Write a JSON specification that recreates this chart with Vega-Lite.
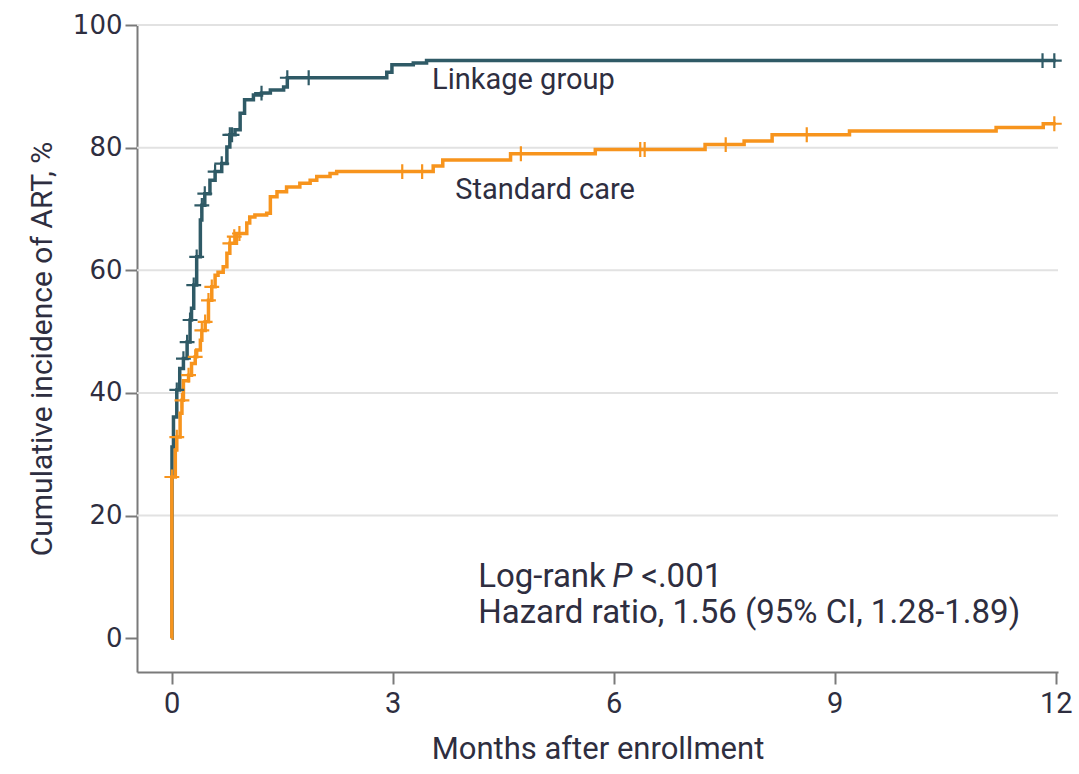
{
  "$schema": "https://vega.github.io/schema/vega-lite/v6.json",
  "width": 921,
  "height": 647,
  "autosize": {"type": "none"},
  "padding": {"left": 137, "top": 25, "right": 21, "bottom": 102},
  "background": "white",
  "config": {
    "view": {"stroke": null},
    "axis": {"labelColor": "#2e2e40", "titleColor": "#2e2e40", "domainColor": "#7a7a7a", "tickColor": "#7a7a7a", "domainWidth": 2, "tickWidth": 2, "tickSize": 12, "grid": false, "titleFontWeight": "normal"}
  },
  "datasets": {
    "curve": [
      {"series": "Linkage group", "month": 0, "pct": 0},
      {"series": "Linkage group", "month": 0.005, "pct": 31.2},
      {"series": "Linkage group", "month": 0.025, "pct": 36.1},
      {"series": "Linkage group", "month": 0.07, "pct": 40.5},
      {"series": "Linkage group", "month": 0.11, "pct": 44.0},
      {"series": "Linkage group", "month": 0.16, "pct": 45.6},
      {"series": "Linkage group", "month": 0.21, "pct": 48.3},
      {"series": "Linkage group", "month": 0.25, "pct": 51.9},
      {"series": "Linkage group", "month": 0.27, "pct": 53.8},
      {"series": "Linkage group", "month": 0.3, "pct": 57.6},
      {"series": "Linkage group", "month": 0.34, "pct": 62.2},
      {"series": "Linkage group", "month": 0.39, "pct": 68.2},
      {"series": "Linkage group", "month": 0.41, "pct": 70.6},
      {"series": "Linkage group", "month": 0.45, "pct": 72.5},
      {"series": "Linkage group", "month": 0.52, "pct": 74.7},
      {"series": "Linkage group", "month": 0.59, "pct": 76.1},
      {"series": "Linkage group", "month": 0.68, "pct": 77.4},
      {"series": "Linkage group", "month": 0.75, "pct": 80.1},
      {"series": "Linkage group", "month": 0.79, "pct": 82.1},
      {"series": "Linkage group", "month": 0.86, "pct": 82.9},
      {"series": "Linkage group", "month": 0.93, "pct": 85.6},
      {"series": "Linkage group", "month": 0.99, "pct": 87.8},
      {"series": "Linkage group", "month": 1.11, "pct": 88.6},
      {"series": "Linkage group", "month": 1.22, "pct": 88.9},
      {"series": "Linkage group", "month": 1.34, "pct": 89.4},
      {"series": "Linkage group", "month": 1.52, "pct": 89.9},
      {"series": "Linkage group", "month": 1.57, "pct": 91.4},
      {"series": "Linkage group", "month": 2.92, "pct": 92.3},
      {"series": "Linkage group", "month": 2.99, "pct": 93.5},
      {"series": "Linkage group", "month": 3.28, "pct": 93.8},
      {"series": "Linkage group", "month": 3.46, "pct": 94.2},
      {"series": "Linkage group", "month": 12.0, "pct": 94.2},
      {"series": "Standard care", "month": 0, "pct": 0},
      {"series": "Standard care", "month": 0.003, "pct": 26.3},
      {"series": "Standard care", "month": 0.05, "pct": 30.7},
      {"series": "Standard care", "month": 0.07, "pct": 32.8},
      {"series": "Standard care", "month": 0.115, "pct": 36.7},
      {"series": "Standard care", "month": 0.14, "pct": 38.8},
      {"series": "Standard care", "month": 0.16, "pct": 42.0},
      {"series": "Standard care", "month": 0.23, "pct": 42.9},
      {"series": "Standard care", "month": 0.27, "pct": 44.8},
      {"series": "Standard care", "month": 0.32, "pct": 45.9},
      {"series": "Standard care", "month": 0.34, "pct": 47.0},
      {"series": "Standard care", "month": 0.39, "pct": 48.6},
      {"series": "Standard care", "month": 0.41, "pct": 50.2},
      {"series": "Standard care", "month": 0.455, "pct": 51.6},
      {"series": "Standard care", "month": 0.5, "pct": 55.1},
      {"series": "Standard care", "month": 0.545, "pct": 57.3},
      {"series": "Standard care", "month": 0.59, "pct": 59.2},
      {"series": "Standard care", "month": 0.63, "pct": 59.7},
      {"series": "Standard care", "month": 0.7, "pct": 60.6},
      {"series": "Standard care", "month": 0.75, "pct": 62.8},
      {"series": "Standard care", "month": 0.79, "pct": 64.4},
      {"series": "Standard care", "month": 0.88, "pct": 66.0},
      {"series": "Standard care", "month": 1.02, "pct": 67.7},
      {"series": "Standard care", "month": 1.06, "pct": 68.7},
      {"series": "Standard care", "month": 1.13, "pct": 69.0},
      {"series": "Standard care", "month": 1.29, "pct": 69.3},
      {"series": "Standard care", "month": 1.34, "pct": 72.0},
      {"series": "Standard care", "month": 1.43, "pct": 72.8},
      {"series": "Standard care", "month": 1.56, "pct": 73.6},
      {"series": "Standard care", "month": 1.74, "pct": 74.2},
      {"series": "Standard care", "month": 1.88, "pct": 74.7},
      {"series": "Standard care", "month": 1.97, "pct": 75.3},
      {"series": "Standard care", "month": 2.15, "pct": 75.8},
      {"series": "Standard care", "month": 2.24, "pct": 76.1},
      {"series": "Standard care", "month": 3.55, "pct": 77.0},
      {"series": "Standard care", "month": 3.68, "pct": 78.0},
      {"series": "Standard care", "month": 4.6, "pct": 79.0},
      {"series": "Standard care", "month": 5.75, "pct": 79.7},
      {"series": "Standard care", "month": 7.24, "pct": 80.5},
      {"series": "Standard care", "month": 7.77, "pct": 81.1},
      {"series": "Standard care", "month": 8.15, "pct": 82.1},
      {"series": "Standard care", "month": 9.2, "pct": 82.7},
      {"series": "Standard care", "month": 11.19, "pct": 83.3},
      {"series": "Standard care", "month": 11.83, "pct": 83.9},
      {"series": "Standard care", "month": 12.0, "pct": 83.9}
    ],
    "censor": [
      {"series": "Linkage group", "month": 0.07, "pct": 40.5},
      {"series": "Linkage group", "month": 0.16, "pct": 45.6},
      {"series": "Linkage group", "month": 0.21, "pct": 48.3},
      {"series": "Linkage group", "month": 0.25, "pct": 51.9},
      {"series": "Linkage group", "month": 0.3, "pct": 57.6},
      {"series": "Linkage group", "month": 0.34, "pct": 62.2},
      {"series": "Linkage group", "month": 0.41, "pct": 70.6},
      {"series": "Linkage group", "month": 0.45, "pct": 72.5},
      {"series": "Linkage group", "month": 0.59, "pct": 76.1},
      {"series": "Linkage group", "month": 0.68, "pct": 77.4},
      {"series": "Linkage group", "month": 0.79, "pct": 82.1},
      {"series": "Linkage group", "month": 0.82, "pct": 82.1},
      {"series": "Linkage group", "month": 1.22, "pct": 88.9},
      {"series": "Linkage group", "month": 1.57, "pct": 91.4},
      {"series": "Linkage group", "month": 1.86, "pct": 91.4},
      {"series": "Linkage group", "month": 11.82, "pct": 94.2},
      {"series": "Linkage group", "month": 11.98, "pct": 94.2},
      {"series": "Standard care", "month": 0.003, "pct": 26.3},
      {"series": "Standard care", "month": 0.07, "pct": 32.8},
      {"series": "Standard care", "month": 0.14, "pct": 38.8},
      {"series": "Standard care", "month": 0.23, "pct": 42.9},
      {"series": "Standard care", "month": 0.32, "pct": 45.9},
      {"series": "Standard care", "month": 0.41, "pct": 50.2},
      {"series": "Standard care", "month": 0.455, "pct": 51.6},
      {"series": "Standard care", "month": 0.5, "pct": 55.1},
      {"series": "Standard care", "month": 0.545, "pct": 57.3},
      {"series": "Standard care", "month": 0.79, "pct": 64.4},
      {"series": "Standard care", "month": 0.85, "pct": 65.5},
      {"series": "Standard care", "month": 0.92, "pct": 66.0},
      {"series": "Standard care", "month": 3.13, "pct": 76.1},
      {"series": "Standard care", "month": 3.4, "pct": 76.1},
      {"series": "Standard care", "month": 4.74, "pct": 79.0},
      {"series": "Standard care", "month": 6.36, "pct": 79.7},
      {"series": "Standard care", "month": 6.42, "pct": 79.7},
      {"series": "Standard care", "month": 7.52, "pct": 80.5},
      {"series": "Standard care", "month": 8.62, "pct": 82.1},
      {"series": "Standard care", "month": 11.98, "pct": 83.9}
    ],
    "grid": [{"pct": 20}, {"pct": 40}, {"pct": 60}, {"pct": 80}, {"pct": 100}],
    "names": [
      {"text": "Linkage group", "month": 3.535, "pct": 91.0},
      {"text": "Standard care", "month": 3.85, "pct": 73.1}
    ],
    "stats": [
      {"part": "a", "text": "Log-rank", "month": 4.16, "pct": 10.0},
      {"part": "b", "text": "Hazard ratio, 1.56 (95% CI, 1.28-1.89)", "month": 4.16, "pct": 4.2}
    ]
  },
  "layer": [
    {
      "data": {"name": "grid"},
      "mark": {"type": "rule", "color": "#e2e2e2", "strokeWidth": 2},
      "encoding": {
        "y": {"field": "pct", "type": "quantitative", "scale": {"domain": [-5.5, 100], "nice": false, "zero": false}}
      }
    },
    {
      "data": {"name": "curve"},
      "mark": {"type": "line", "interpolate": "step-after", "strokeWidth": 3.5, "clip": true},
      "encoding": {
        "x": {"field": "month", "type": "quantitative",
          "scale": {"domain": [-0.47, 12.03], "nice": false, "zero": false},
          "axis": {"values": [0, 3, 6, 9, 12], "format": "d", "title": "Months after enrollment", "labelFont": "Roboto", "labelFontSize": 29, "labelPadding": 5, "titleFont": "Roboto", "titleFontSize": 31, "titlePadding": 16}},
        "y": {"field": "pct", "type": "quantitative",
          "scale": {"domain": [-5.5, 100], "nice": false, "zero": false},
          "axis": {"values": [0, 20, 40, 60, 80, 100], "format": "d", "title": "Cumulative incidence of ART, %", "labelFont": "DejaVu Sans", "labelFontSize": 26, "labelPadding": 3, "titleFont": "Roboto", "titleFontSize": 30, "titlePadding": 15}},
        "color": {"field": "series", "type": "nominal", "scale": {"domain": ["Linkage group", "Standard care"], "range": ["#2f5a66", "#f7941d"]}, "legend": null}
      }
    },
    {
      "data": {"name": "censor"},
      "mark": {"type": "point", "shape": "M-1,0L1,0M0,-1L0,1", "filled": false, "size": 220, "strokeWidth": 2.2, "opacity": 1},
      "encoding": {
        "x": {"field": "month", "type": "quantitative"},
        "y": {"field": "pct", "type": "quantitative"},
        "color": {"field": "series", "type": "nominal", "legend": null}
      }
    },
    {
      "data": {"name": "names"},
      "mark": {"type": "text", "align": "left", "baseline": "middle", "font": "Roboto", "fontSize": 29, "color": "#2e2e40"},
      "encoding": {
        "x": {"field": "month", "type": "quantitative"},
        "y": {"field": "pct", "type": "quantitative"},
        "text": {"field": "text"}
      }
    },
    {
      "data": {"name": "stats"},
      "mark": {"type": "text", "align": "left", "baseline": "middle", "font": "Roboto", "fontSize": 33, "color": "#2e2e40"},
      "encoding": {
        "x": {"field": "month", "type": "quantitative"},
        "y": {"field": "pct", "type": "quantitative"},
        "text": {"field": "text"}
      }
    },
    {
      "data": {"name": "stats"},
      "transform": [{"filter": "datum.part == 'a'"}],
      "mark": {"type": "text", "align": "left", "baseline": "middle", "font": "Roboto", "fontSize": 33, "fontStyle": "italic", "color": "#2e2e40", "dx": 134},
      "encoding": {
        "x": {"field": "month", "type": "quantitative"},
        "y": {"field": "pct", "type": "quantitative"},
        "text": {"value": "P"}
      }
    },
    {
      "data": {"name": "stats"},
      "transform": [{"filter": "datum.part == 'a'"}],
      "mark": {"type": "text", "align": "left", "baseline": "middle", "font": "Roboto", "fontSize": 33, "color": "#2e2e40", "dx": 163},
      "encoding": {
        "x": {"field": "month", "type": "quantitative"},
        "y": {"field": "pct", "type": "quantitative"},
        "text": {"value": "<.001"}
      }
    }
  ]
}
